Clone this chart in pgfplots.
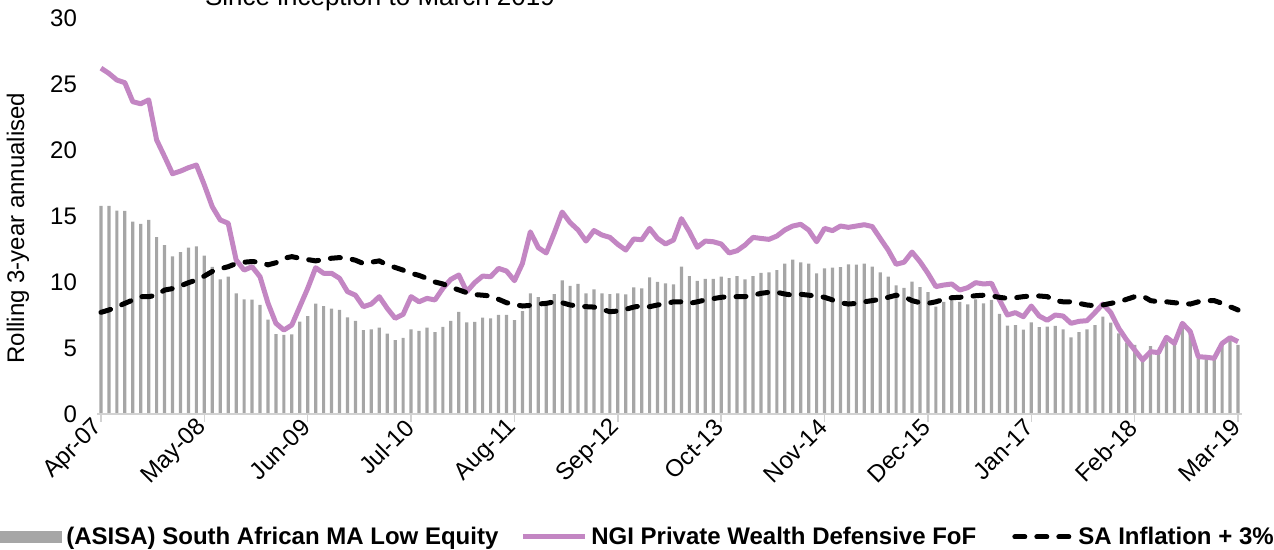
\documentclass[border=0pt]{standalone}
\usepackage{fontspec}
\setmainfont{Liberation Sans}
\usepackage{pgfplots}
\usepackage{pgfplotstable}
\pgfplotsset{compat=1.18}

\definecolor{barGray}{RGB}{166,166,166}
\definecolor{ngiPurple}{RGB}{195,134,195}
\definecolor{axisGray}{RGB}{210,210,210}

% month index (0 = Apr-07), ASISA bars, NGI fund, CPI + 3%
\pgfplotstableread{
m asisa ngi infl
0 15.76 26.2 7.7
1 15.76 25.8 7.88
2 15.4 25.3 8.13
3 15.38 25.1 8.38
4 14.57 23.66 8.64
5 14.4 23.5 8.89
6 14.7 23.8 8.89
7 13.4 20.76 9.0
8 12.8 19.5 9.39
9 11.95 18.2 9.5
10 12.27 18.4 9.7
11 12.6 18.66 9.95
12 12.7 18.86 10.15
13 12.0 17.35 10.45
14 11.14 15.7 10.8
15 10.2 14.7 11.0
16 10.4 14.45 11.16
17 9.14 11.67 11.4
18 8.69 10.9 11.5
19 8.67 11.16 11.55
20 8.26 10.4 11.5
21 7.15 8.4 11.3
22 6.06 6.87 11.46
23 6.0 6.36 11.8
24 6.04 6.74 11.92
25 7.0 8.13 11.8
26 7.42 9.52 11.7
27 8.36 11.08 11.6
28 8.18 10.66 11.7
29 7.98 10.66 11.8
30 7.88 10.28 11.85
31 7.32 9.27 11.8
32 7.05 9.0 11.65
33 6.36 8.13 11.4
34 6.41 8.33 11.5
35 6.54 8.89 11.6
36 6.09 8.0 11.29
37 5.6 7.25 11.1
38 5.76 7.55 10.9
39 6.41 8.89 10.66
40 6.29 8.5 10.5
41 6.54 8.76 10.27
42 6.2 8.64 10.0
43 6.6 9.52 9.85
44 7.05 10.2 9.6
45 7.73 10.53 9.4
46 6.94 9.27 9.19
47 6.97 9.95 9.05
48 7.3 10.45 9.0
49 7.25 10.4 8.94
50 7.5 11.03 8.69
51 7.5 10.83 8.43
52 7.12 10.1 8.3
53 7.8 11.4 8.18
54 9.14 13.8 8.23
55 8.86 12.6 8.33
56 8.5 12.2 8.38
57 9.09 13.7 8.5
58 10.12 15.3 8.43
59 9.7 14.5 8.26
60 9.85 13.94 8.18
61 9.14 13.1 8.13
62 9.44 13.9 8.1
63 9.14 13.56 7.93
64 9.09 13.38 7.75
65 9.14 12.85 7.8
66 9.07 12.42 7.93
67 9.6 13.26 8.1
68 9.52 13.2 8.2
69 10.35 14.06 8.13
70 10.0 13.3 8.26
71 9.9 12.88 8.35
72 9.82 13.18 8.5
73 11.16 14.8 8.5
74 10.45 13.8 8.38
75 10.08 12.63 8.5
76 10.23 13.1 8.64
77 10.23 13.05 8.74
78 10.4 12.88 8.84
79 10.3 12.2 8.89
80 10.45 12.37 8.89
81 10.2 12.8 8.89
82 10.45 13.38 9.0
83 10.7 13.3 9.14
84 10.73 13.23 9.22
85 10.9 13.48 9.22
86 11.4 13.94 9.09
87 11.7 14.24 9.0
88 11.49 14.37 9.07
89 11.4 13.94 9.0
90 10.66 13.05 8.94
91 11.03 14.06 8.84
92 11.08 13.89 8.64
93 11.13 14.24 8.43
94 11.34 14.14 8.33
95 11.32 14.24 8.38
96 11.39 14.34 8.5
97 11.16 14.2 8.59
98 10.73 13.3 8.69
99 10.4 12.42 8.84
100 9.75 11.34 9.0
101 9.55 11.5 8.89
102 10.03 12.27 8.59
103 9.62 11.54 8.43
104 9.24 10.66 8.38
105 8.13 9.65 8.5
106 8.5 9.77 8.69
107 8.64 9.85 8.81
108 8.5 9.39 8.84
109 8.3 9.57 8.89
110 8.69 9.95 8.96
111 8.38 9.85 9.0
112 8.64 9.9 8.94
113 7.58 8.64 8.84
114 6.69 7.5 8.76
115 6.74 7.68 8.81
116 6.39 7.37 8.89
117 6.94 8.18 8.94
118 6.59 7.42 8.94
119 6.62 7.1 8.89
120 6.67 7.5 8.59
121 6.41 7.42 8.5
122 5.81 6.87 8.5
123 6.21 7.02 8.38
124 6.41 7.07 8.26
125 6.74 7.68 8.2
126 7.37 8.33 8.26
127 6.92 7.68 8.38
128 6.11 6.49 8.5
129 5.4 5.6 8.69
130 5.23 4.85 8.89
131 4.34 4.09 8.94
132 5.15 4.72 8.59
133 4.6 4.65 8.5
134 5.48 5.81 8.5
135 5.4 5.35 8.43
136 6.62 6.87 8.38
137 6.11 6.24 8.33
138 4.39 4.34 8.5
139 4.34 4.3 8.59
140 4.29 4.22 8.59
141 5.23 5.35 8.38
142 5.6 5.78 8.13
143 5.23 5.48 7.88
}\rolling

\begin{document}
\begin{tikzpicture}
\begin{axis}[
    at={(0pt,0pt)}, anchor=south west,
    scale only axis,
    width=572.5pt, height=198pt,
    xmin=-0.5, xmax=143.5,
    ymin=0, ymax=30,
    ytick={0,5,...,30},
    xtick={0,13,...,143},
    xticklabels={Apr-07,May-08,Jun-09,Jul-10,Aug-11,Sep-12,Oct-13,Nov-14,Dec-15,Jan-17,Feb-18,Mar-19},
    axis line style={draw=none},
    xtick pos=left, ytick pos=left,
    tick align=outside,
    major tick length=4pt,
    xtick style={axisGray, line width=0.75pt},
    ytick style={draw=none},
    tick label style={font=\fontsize{12}{14.4}\selectfont},
    /pgf/number format/assume math mode=true,
    yticklabel style={xshift=-2.5pt},
    xticklabel style={rotate=45, anchor=east, inner sep=1pt},
    legend columns=3,
    legend style={at={(0.4699,-0.3106)}, anchor=center, draw=none, fill=none,
        font=\bfseries\fontsize{12}{14.4}\selectfont,
        /tikz/column 2/.style={column sep=9pt},
        /tikz/column 4/.style={column sep=16pt}},
    clip=false,
]
\addplot[ybar, bar width=1.6pt, bar shift=0pt, fill=barGray, draw=none,
    legend image code/.code={\fill[barGray] (0pt,-3pt) rectangle (35pt,3pt);}]
    table[x=m, y=asisa] {\rolling};
\addlegendentry{(ASISA) South African MA Low Equity}
\addplot[ngiPurple, line width=2.5pt, line join=round, no marks,
    legend image code/.code={\draw[ngiPurple, line width=2.5pt] (0pt,0pt) -- (31pt,0pt);}]
    table[x=m, y=ngi] {\rolling};
\addlegendentry{NGI Private Wealth Defensive FoF}
\addplot[black, line width=2.5pt, line cap=round, dash pattern=on 5pt off 6pt, no marks,
    legend image code/.code={\draw[black, line width=2.5pt, line cap=round, dash pattern=on 5pt off 6pt] (1.5pt,0pt) -- (30pt,0pt);}]
    table[x=m, y=infl] {\rolling};
\addlegendentry{SA Inflation + 3\%}
\draw[axisGray, line width=0.75pt] (axis cs:-0.5,0) -- (axis cs:143.5,0);
\end{axis}
\node[rotate=90, font=\fontsize{12}{14.4}\selectfont] at (-39.5pt,93pt) {Rolling 3-year annualised};
\node[anchor=base, font=\fontsize{13}{15.6}\selectfont] at (141.5pt,204pt) {Since inception to March 2019};
\pgfresetboundingbox
\path[use as bounding box] (-48.5pt,-68pt) rectangle (588.5pt,207pt);
\end{tikzpicture}
\end{document}
